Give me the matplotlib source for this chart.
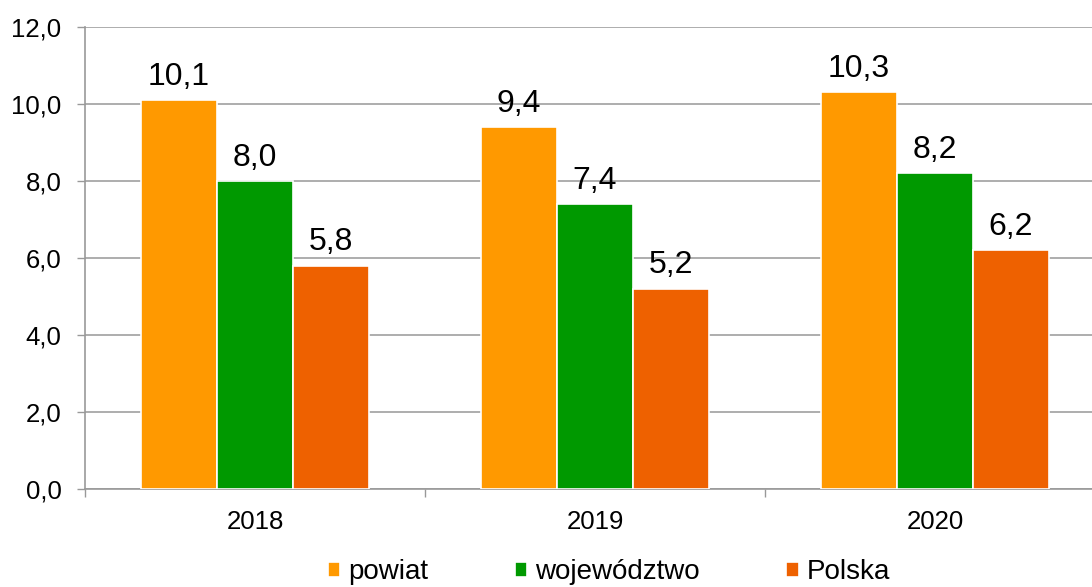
import matplotlib.pyplot as plt
import numpy as np

plt.rcParams['font.family'] = ['Liberation Sans', 'DejaVu Sans']

years = ['2018', '2019', '2020']
series = ['powiat', 'województwo', 'Polska']
powiat = [10.1, 9.4, 10.3]
wojewodztwo = [8.0, 7.4, 8.2]
polska = [5.8, 5.2, 6.2]
colors = ['#FF9900', '#009900', '#EE6100']

fig = plt.figure(figsize=(10.92, 5.87), dpi=100)
ax = fig.add_axes([85 / 1092, 1 - 489 / 587, 1 - 85 / 1092, (489 - 27) / 587])

x = np.arange(len(years))
width = 0.2235
for i, (name, vals) in enumerate(zip(series, [powiat, wojewodztwo, polska])):
    pos = x + (i - 1) * width
    bars = ax.bar(pos, vals, width, color=colors[i], edgecolor='white',
                  linewidth=1.2, label=name, zorder=3)
    for b, v in zip(bars, vals):
        ax.annotate(f'{v:.1f}'.replace('.', ','),
                    xy=(b.get_x() + b.get_width() / 2, v),
                    xytext=(0, 6), textcoords='offset points',
                    ha='center', va='bottom', fontsize=23, zorder=4)

ax.set_ylim(0, 12)
ax.set_yticks(np.arange(0, 12.1, 2))
ax.set_yticklabels([f'{t:.1f}'.replace('.', ',') for t in np.arange(0, 12.1, 2)],
                   fontsize=18.5)
ax.set_xlim(-0.5, 2.5 - 13 / 340)
ax.set_xticks(x)
ax.set_xticklabels(years, fontsize=18.5)
ax.tick_params(axis='x', length=0, pad=15)
ax.set_xticks([-0.5, 0.5, 1.5], minor=True)
ax.tick_params(axis='x', which='minor', length=6, color='#999999', width=1)
ax.tick_params(axis='y', length=6, color='#999999', width=1, pad=11)

ax.grid(axis='y', color='#A0A0A0', linewidth=1.2, zorder=0)
for s in ['top', 'right']:
    ax.spines[s].set_visible(False)
for s in ['left', 'bottom']:
    ax.spines[s].set_color('#999999')
    ax.spines[s].set_linewidth(1.2)

leg = fig.legend(loc='center', bbox_to_anchor=(609 / 1092, 1 - 572 / 587), ncol=3,
                 frameon=False, fontsize=20, handlelength=0.45, handleheight=0.45,
                 handletextpad=0.3, columnspacing=3.1)

plt.savefig('out.png', dpi=100)
